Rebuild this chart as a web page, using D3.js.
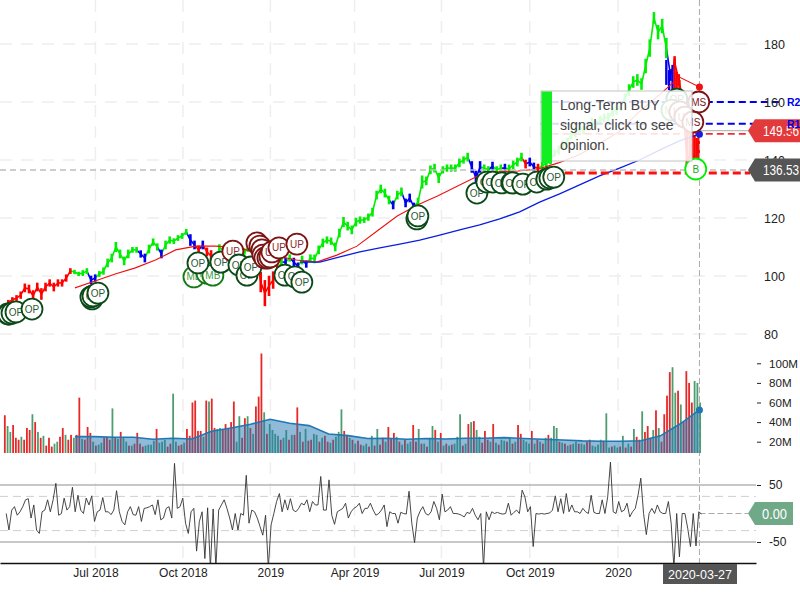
<!DOCTYPE html>
<html><head><meta charset="utf-8">
<script src="https://d3js.org/d3.v7.min.js"></script>
<style>html,body{margin:0;padding:0;background:#fff}svg{display:block}text{font-family:"Liberation Sans",Arial,sans-serif}</style>
</head><body><div id="c"></div>
<script>
// ---- category / tick data
const timeTickBars=[69.2,132.6,196,257,320,384,448];
const timeTickLabels=["Jul 2018","Oct 2018","2019","Apr 2019","Jul 2019","Oct 2019","2020"];
const priceTicks=[80,100,120,140,160,180];
const volumeTicks=[20,40,60,80,100];
const cciTicks=[-50,50];
const cursorBar=507;
const cursorLabel="2020-03-27";
// ---- price, one value every third trading bar, starting at bar 6
const priceFirstBar=6, priceStep=3;
const closes=[91,91.7,92.4,93.4,95.9,95.5,93.1,96.2,93.8,96.2,97.6,96.2,97.6,97.6,99.3,101.7,
101.4,100.7,101,101.7,98.6,99.3,100.7,101.7,104.5,106.2,110,107.6,105.2,107.6,109,109,
107.6,106.2,109.3,111.7,110,107.6,110.7,112.4,112,113.1,113.8,115.2,112.4,110.7,109,110.7,
108.3,106.9,104.8,109.7,109,106.9,104.8,103.4,104.8,107.6,110.3,109,106.9,97.9,94.1,96.6,
98.6,102,104.8,104.8,106.2,104.8,103.4,105.5,104.1,106.2,105.9,109,111.4,112.4,112,110,
114.8,118.6,117.2,115.9,118.6,119.3,119.3,120.3,122,127.9,130,128.6,126.2,124.5,127.9,129,
125.2,126.9,123.8,125.5,132.4,132.8,136.6,137.2,133.8,136.6,137.2,137.2,137.2,139,140,141,
137.6,133.8,137.6,137.2,136.6,137.9,136.6,137.2,137.2,136.9,138.3,139.3,141,138.6,139.3,137.6,
137.2,137.9,139,140,142.4,143.4,145.2,146.2,148.6,149.3,151,150.3,151.7,153.1,152.1,153.8,
154.5,154.8,156.6,157.2,158.3,161.4,164.1,166.9,167.6,166.2,172.4,178.6,189,184.1,186.2,178.6,
169.3,173.8,167.6,160.7,139.3,143.4,138.3,150];
// height of each price bar, in dollars
const priceSpans=[1.5,2,2,2.5,3,3,4,3,4,3,2.5,3,2.5,2.5,2.5,2,
1.5,1.5,2,2,3,2.5,2,2.5,3,3,3.5,3,3,3,2,2,
2.5,3,3,2.5,2.5,3,3,2.5,2,2,2,2,4,3,3,3,
3,4,4,2.5,3,3,5,4,4,4,4,3,4,7,9,7,
6,5,2.5,3,2.5,3,2.5,3,2.5,2.5,3,3,3,2.5,2.5,3,
3,3.5,3,3,3,2.5,2,2.5,3,3,3,3,3,3,3,3,
3,3,3,3,4.5,3,3,3,3.5,2.5,2.5,2.5,2.5,3,2.5,3,
4,5,4,2.5,2.5,3,2.5,2.5,3,3,3,3,3,3,3,3,
3,3,3,3,2.5,3,3,3,3,3,3,3,3,3,3,3,
3,3,3,3,3,3,4,4,4,4,5,6,4,5,5,7,
4,4,4,4,4,4,4,4];
// colour runs along the price bars
const trendLetters=["r","g","b","g","b","g","b","g","b","r","b","r","g","r","g","b","r","g","b","g","b","g","b","g","b","g","b","g","b","g","b","g","b","g","r","b","r","g","b","r"];
const trendLengths=[16,4,2,10,2,3,1,6,2,1,1,3,2,4,2,1,6,1,1,1,2,1,1,20,1,2,3,13,3,2,1,2,1,4,1,2,1,31,1,7];
// ---- tall bars of the sell-off, drawn over the price line
const lateBars=[483,485,487.5,489,490.5,492.5,495,498,500,502,503.5,505,506.5];
const lateHigh=[174.5,171,172.8,174.8,170.3,167.6,164,152,155.5,150.3,148.6,147.6,149.7];
const lateLow=[165.9,164.1,163.4,163.4,162.4,160.7,155,138.3,138.3,136.6,133.8,140,138.3];
const lateTrend="bbbrrrrrrrrrr";
// ---- moving averages on the price panel
const maRed=[95.9,98.3,100.7,102.8,105.5,109,110.3,110.3,109.7,108.3,106.9,105.5,104.8,107.2,110.3,115.5,120.7,124.5,127.6,131,134.5,135.9,136.2,136.9,139,141.7,145.5,149.7,156.6,162.4,168.6,165.2];
const maRedBars=[54.3,507];
const maBlue=[104.8,104.8,106.6,108.3,109.7,111,112.4,114.1,115.9,117.6,119.7,122.1,125.5,128.3,131.4,134.5,137.2,140,143.4,146.6,148.9];
const maBlueBars=[217.4,507];
// ---- signal markers
const markerKinds=["OP","OP","OP","OP","OP","OP","OP","OP","OP","MB","MB","MB","OP","OP","UP","OP","OP","OP","UP","UP","UP","UP","UP","UP","UP","UP","UP","UP","OP","OP","OP","OP","OP","OP","OP","OP","OP","OP","OP","OP","OP","OP","OP","OP","OP","MB","UP","UP","MS","MS","B"];
const markerBars=[5.8,6.5,8.7,11.6,23.2,66.7,65.9,67.4,71,140.6,150,154.3,143.5,160.1,168.8,173.2,179,181.9,186.2,188.4,189.9,190.6,192,194.2,195.7,197.1,202.2,215.2,206.5,213.8,218.8,302.2,302.9,345.7,352.9,357.2,363.8,371,371.7,379,389.1,396.4,398.6,401.4,490.6,487,492.8,496.4,506.5,502.2,504.3];
const markerPrices=[86.9,86.9,87.2,87.6,88.6,92.1,92.8,93.1,94.1,99.7,101,100.3,104.5,104.8,108.6,103.8,100.3,103.1,111.4,110.3,109,107.2,106.2,106.2,106.6,108.3,109.7,111,100.3,99.7,97.9,119.7,120.7,128.6,132.4,132.4,132.1,132.1,132.1,131.7,132.4,133.4,133.8,134.1,161,157.2,156.6,154.8,160,153.1,136.9];
// ---- levels
const levelR2=160, levelR1=152.5, levelS=149, levelStop=135.5, lastClose=136.53, lastPrice=150.1;
// ---- volume, millions, every second bar
const volumes=[47,36,30,37,24,22,25,22,34,32,48,40,30,24,26,16,24,15,18,20,25,34,27,22,27,24,27,65,23,22,35,29,20,16,17,19,24,25,22,54,24,23,30,24,20,16,16,18,29,18,15,16,17,17,21,33,19,20,22,15,18,69,20,16,17,19,33,26,60,62,31,31,25,62,61,64,34,33,34,33,38,33,40,61,20,46,24,44,46,34,28,56,66,110,50,28,38,32,28,26,22,24,32,22,27,27,55,30,20,33,21,22,28,27,20,24,26,20,19,22,25,30,53,31,27,24,22,18,21,17,16,18,15,26,16,33,17,24,20,35,23,29,25,20,17,22,18,20,37,20,33,18,18,15,24,36,32,20,29,16,18,16,17,18,25,48,16,18,38,40,41,32,25,19,31,22,20,38,19,17,22,21,20,24,18,20,37,28,22,20,18,31,18,22,20,18,24,27,24,36,34,20,19,18,16,17,18,20,18,18,17,20,22,16,15,17,22,21,49,14,15,16,14,15,26,14,18,15,33,25,22,51,30,36,24,32,52,34,20,48,67,91,96,70,72,58,40,92,80,60,82,80,60];
const volumeDir="rggrrrgrrrgrgrgrrrgg"+"rrgrrgrrgrrrgrggrrrg"+"rgrggrgrrrrggggrgggr"+"rggrrgrrrrrrgrgrrggr"+"rrrrggrrgrgrrrgrgggg"+"rggrgrrgrgrrggrgrrgr"+"gggrrgrgrrggrgrgrrgr"+"rrgrgrggrrgrgrggrgrg"+"rgrgggrgrgrggrrrgrgr"+"ggrgrgrrgggrgrgrgrgg"+"grgrgrggrggrrggggrgg"+"rggrgrgrgrrgrrrgrgrr"+"rrggrgrrrrggg";
const volumeFirstBar=3.5, volumeStep=2;
const volumeMA=[25.2,25.2,24.5,24.5,22.5,23.5,22.8,30.6,34,37.8,42.9,38.8,36.4,27.9,26.2,23.2,23.5,22.5,23.2,22.8,23.5,23.5,24.2,23.2,22.5,21.8,20.8,20.5,20.5,21,26,38,52.4];
const volumeMABars=[54.3,507];
// ---- oscillator, every second bar
const cci=[0,-29,6,12,-3,3,12,24,26,-8,15,-29,-35,3,6,24,3,24,53,-3,0,27,6,12,46,3,32,6,0,27,15,31,-14,3,6,28,3,3,-2,6,40,3,-14,-20,3,12,-2,-3,12,-14,9,10,12,15,-2,24,-11,-8,9,12,-8,88,9,12,27,-17,-35,3,9,-66,-14,3,-79,10,-95,8,-95,6,15,24,9,-8,-29,0,-29,0,-3,67,-17,6,3,-8,-23,-38,-3,-95,-20,0,21,35,3,24,6,26,6,3,9,18,15,24,3,21,15,15,65,6,6,59,-3,-19,3,6,9,18,-8,3,9,12,18,0,9,9,18,6,-3,0,6,15,-23,3,0,0,-17,2,0,-1,39,-17,-51,-8,4,12,0,-3,3,21,9,-11,34,3,6,12,0,0,-1,-3,-6,2,0,9,-3,-11,0,-95,3,-11,3,0,2,0,-1,0,18,-3,2,6,0,41,29,3,12,-58,0,-1,0,-1,0,1,6,31,3,26,0,35,3,15,3,3,0,9,3,0,32,2,0,0,24,0,29,90,3,0,21,3,6,18,-6,3,9,32,62,0,-37,0,9,0,15,3,0,0,21,-17,-95,0,-76,0,0,-26,-58,0,-57,3,-1];
const cciBands=[30,-30];
const cciLast=0;

const W=800,H=600,plotR=756,panelBottom=563;
const svg=d3.select("#c").append("svg").attr("width",W).attr("height",H);
const x=d3.scaleLinear().domain([0,548]).range([0,plotR]);
const yP=d3.scaleLinear().domain([80,180]).range([334,44]);
const yV=d3.scaleLinear().domain([20,100]).range([441.7,363.3]);
const yC=d3.scaleLinear().domain([-50,50]).range([542,485]);
const volBase=453;
const col={r:"#ff0000",g:"#00ee00",b:"#0000ee"};
const along=(n,a,b)=>d3.scaleLinear().domain([0,n-1]).range([a,b]);
const trend=trendLetters.map((l,i)=>l.repeat(trendLengths[i])).join("");

const defs=svg.append("defs");
defs.append("clipPath").attr("id","pclip").append("rect").attr("width",plotR).attr("height",350);
defs.append("clipPath").attr("id","cclip").append("rect").attr("y",458).attr("width",plotR).attr("height",panelBottom-458);

// grid
const grid=svg.append("g").attr("stroke","#eeeeee").attr("stroke-width",1.5).attr("stroke-dasharray","12 9");
grid.selectAll(".gh").data(priceTicks).join("line").attr("x1",0).attr("x2",plotR).attr("y1",yP).attr("y2",yP);
grid.selectAll(".gv").data(timeTickBars).join("line").attr("x1",d=>x(d)).attr("x2",d=>x(d)).attr("y1",0).attr("y2",panelBottom);

// price
const pg=svg.append("g").attr("clip-path","url(#pclip)");
const pIdx=closes.map((_,i)=>i);
const pX=i=>x(priceFirstBar+i*priceStep);
pg.selectAll(".p").data(pIdx.slice(1)).join("line")
 .attr("x1",i=>pX(i-1)).attr("x2",i=>pX(i)).attr("y1",i=>yP(closes[i-1])).attr("y2",i=>yP(closes[i]))
 .attr("stroke",i=>col[trend[i]]).attr("stroke-width",1.6);
pg.selectAll(".pb").data(pIdx).join("line")
 .attr("x1",pX).attr("x2",pX).attr("y1",i=>yP(closes[i]+priceSpans[i]/2)).attr("y2",i=>yP(closes[i]-priceSpans[i]/2))
 .attr("stroke",i=>col[trend[i]]).attr("stroke-width",2.6);
pg.selectAll(".lb").data(lateBars).join("line")
 .attr("x1",d=>x(d)).attr("x2",d=>x(d)).attr("y1",(d,i)=>yP(lateHigh[i])).attr("y2",(d,i)=>yP(lateLow[i]))
 .attr("stroke",(d,i)=>col[lateTrend[i]]).attr("stroke-width",2.4);

// moving averages
const mr=along(maRed.length,maRedBars[0],maRedBars[1]);
const mb=along(maBlue.length,maBlueBars[0],maBlueBars[1]);
pg.append("path").attr("d",d3.line().x((d,i)=>x(mr(i))).y(d=>yP(d))(maRed)).attr("fill","none").attr("stroke","#f01010").attr("stroke-width",1.1);
pg.append("path").attr("d",d3.line().x((d,i)=>x(mb(i))).y(d=>yP(d))(maBlue)).attr("fill","none").attr("stroke","#0a1ee0").attr("stroke-width",1.3);

// levels
const levStart=x(392);
svg.append("line").attr("x1",0).attr("x2",748).attr("y1",yP(lastClose)).attr("y2",yP(lastClose)).attr("stroke","#bdbdbd").attr("stroke-width",1.5).attr("stroke-dasharray","6 4");
svg.append("line").attr("x1",x(cursorBar)).attr("x2",x(cursorBar)).attr("y1",0).attr("y2",panelBottom).attr("stroke","#aaa").attr("stroke-dasharray","6 3");
svg.append("line").attr("x1",levStart).attr("x2",750).attr("y1",yP(levelStop)).attr("y2",yP(levelStop)).attr("stroke","#ff1010").attr("stroke-width",3).attr("stroke-dasharray","8 4");
svg.append("line").attr("x1",levStart).attr("x2",748).attr("y1",yP(levelS)).attr("y2",yP(levelS)).attr("stroke","#f03030").attr("stroke-width",1.6).attr("stroke-dasharray","7 4");
svg.append("line").attr("x1",x(cursorBar)).attr("x2",748).attr("y1",yP(lastPrice)).attr("y2",yP(lastPrice)).attr("stroke","#aaa").attr("stroke-width",1);
svg.append("line").attr("x1",levStart).attr("x2",779).attr("y1",yP(levelR2)).attr("y2",yP(levelR2)).attr("stroke","#0000ee").attr("stroke-width",1.8).attr("stroke-dasharray","7 4");
svg.append("line").attr("x1",levStart).attr("x2",782).attr("y1",yP(levelR1)).attr("y2",yP(levelR1)).attr("stroke","#0000ee").attr("stroke-width",1.8).attr("stroke-dasharray","7 4");

// end dots
svg.append("circle").attr("cx",x(cursorBar)).attr("cy",yP(maRed[maRed.length-1])).attr("r",3.5).attr("fill","#f01010");
svg.append("circle").attr("cx",x(cursorBar)).attr("cy",yP(maBlue[maBlue.length-1])).attr("r",3.5).attr("fill","#1a1ae0");

// markers
const mStyle={OP:["#0b4a18","#2a5a36"],MB:["#157a15","#3f9a48"],UP:["#7d1414","#8c2c2c"],MS:["#7d1414","#7d1414"],B:["#00ee00","#22aa22"]};
const mk=svg.append("g").selectAll("g").data(markerKinds).join("g").attr("transform",(k,i)=>`translate(${x(markerBars[i])},${yP(markerPrices[i])})`);
mk.append("circle").attr("r",10.5).attr("fill","#fff").attr("stroke",k=>mStyle[k][0]).attr("stroke-width",1.8);
mk.append("text").text(k=>k).attr("text-anchor","middle").attr("dy","0.36em").attr("font-size",10).attr("fill",k=>mStyle[k][1]);

// tooltip
const tip=svg.append("g");
tip.append("rect").attr("x",541).attr("y",91).attr("width",151).attr("height",70).attr("fill","#fff").attr("fill-opacity",0.86).attr("stroke","#c4c4c4");
tip.append("rect").attr("x",541.5).attr("y",91.5).attr("width",10.5).attr("height",72).attr("fill","#11ee22");
["Long-Term BUY","signal, click to see","opinion."].forEach((t,i)=>tip.append("text").text(t).attr("x",560).attr("y",110+i*20).attr("font-size",14).attr("fill","#444"));

// volume
const vg=svg.append("g");
vg.selectAll("rect").data(volumes).join("rect")
 .attr("x",(d,i)=>x(volumeFirstBar+i*volumeStep)-0.9).attr("width",1.8)
 .attr("y",d=>yV(d)).attr("height",d=>volBase-yV(d))
 .attr("fill",(d,i)=>volumeDir[i]==="r"?"#e82828":"#4f9c70");
const vm=along(volumeMA.length,volumeMABars[0],volumeMABars[1]);
vg.append("path").attr("d",d3.area().x((d,i)=>x(vm(i))).y0(volBase).y1(d=>yV(d))(volumeMA)).attr("fill","#1f77b4").attr("fill-opacity",0.5);
vg.append("path").attr("d",d3.line().x((d,i)=>x(vm(i))).y(d=>yV(d))(volumeMA)).attr("fill","none").attr("stroke","#1f77b4").attr("stroke-width",1.6);
vg.append("circle").attr("cx",x(cursorBar)).attr("cy",yV(volumeMA[volumeMA.length-1])).attr("r",3.5).attr("fill","#1f77b4");

// oscillator
const cg=svg.append("g");
cg.selectAll(".b").data(cciTicks).join("line").attr("x1",0).attr("x2",plotR).attr("y1",yC).attr("y2",yC).attr("stroke","#b4b4b4").attr("stroke-width",1.6);
cg.selectAll(".d").data(cciBands).join("line").attr("x1",0).attr("x2",plotR).attr("y1",yC).attr("y2",yC).attr("stroke","#cfcfcf").attr("stroke-dasharray","8 5");
cg.append("line").attr("x1",x(cursorBar)).attr("x2",748).attr("y1",yC(cciLast)).attr("y2",yC(cciLast)).attr("stroke","#aaa").attr("stroke-dasharray","6 3");
cg.append("path").attr("clip-path","url(#cclip)").attr("d",d3.line().x((d,i)=>x(volumeFirstBar+1+i*volumeStep)).y(d=>yC(d))(cci)).attr("fill","none").attr("stroke","#333").attr("stroke-width",0.9);

// axes
const txt="#222";
const xAxis=d3.axisBottom(x).tickValues(timeTickBars).tickFormat((d,i)=>timeTickLabels[i]).tickSize(0).tickPadding(5);
const xg=svg.append("g").attr("transform",`translate(0,${panelBottom})`).call(xAxis);
xg.select(".domain").attr("stroke","#111").attr("stroke-width",1.3);
xg.selectAll("text").attr("font-size",12).attr("fill",txt).style("font-family","'Liberation Sans'");

const pAxis=d3.axisRight(yP).tickValues(priceTicks).tickSize(0).tickPadding(764-plotR);
const pa=svg.append("g").attr("transform",`translate(${plotR},0)`).call(pAxis);
pa.select(".domain").remove();
pa.selectAll("text").attr("font-size",12.5).attr("fill",txt).style("font-family","'Liberation Sans'");

const vAxis=d3.axisRight(yV).tickValues(volumeTicks).tickSize(4).tickPadding(8).tickFormat(d=>d+"M");
const va=svg.append("g").attr("transform",`translate(${plotR+1},0)`).call(vAxis);
va.select(".domain").remove();
va.selectAll("line").attr("stroke","#222");
va.selectAll("text").attr("font-size",11.6).attr("fill",txt).style("font-family","'Liberation Sans'");

const cAxis=d3.axisRight(yC).tickValues(cciTicks).tickSize(4).tickPadding(8).tickFormat(d=>d);
const ca=svg.append("g").attr("transform",`translate(${plotR+1},0)`).call(cAxis);
ca.select(".domain").remove();
ca.selectAll("line").attr("stroke","#222");
ca.selectAll("text").attr("font-size",12).attr("fill",txt).style("font-family","'Liberation Sans'");

// tags
function tag(yc,label,fill,right,tx,len,anchor){
 const h=11.5;
 svg.append("path").attr("d",`M748,${yc}L755,${yc-h}H${right}V${yc+h}H755Z`).attr("fill",fill);
 svg.append("text").text(label).attr("x",tx).attr("y",yc).attr("dy","0.36em").attr("font-size",14).attr("fill","#fff")
  .attr("textLength",len).attr("lengthAdjust","spacingAndGlyphs");
}
tag(yP(lastPrice),"149.56","#e23a3a",800,763,36);
tag(yP(lastClose),lastClose.toFixed(2),"#555555",800,763,36);
tag(yC(cciLast),cciLast.toFixed(2),"#6fa988",793,762,25);

// level labels
[["R2",levelR2,"#0000ee"],["R1",levelR1,"#0000ee"],["S",levelS,"#f03030"]].forEach(([t,v,c])=>{
 svg.append("text").text(t).attr("x",787).attr("y",yP(v)).attr("dy","0.36em").attr("font-size",10.5).attr("font-weight","bold").attr("fill",c);
});

// date tag
svg.append("rect").attr("x",663).attr("y",564).attr("width",74).attr("height",20).attr("fill","#555");
svg.append("text").text(cursorLabel).attr("x",668).attr("y",574).attr("dy","0.36em").attr("font-size",13.5).attr("fill","#fff").attr("textLength",64).attr("lengthAdjust","spacingAndGlyphs");
</script></body></html>
